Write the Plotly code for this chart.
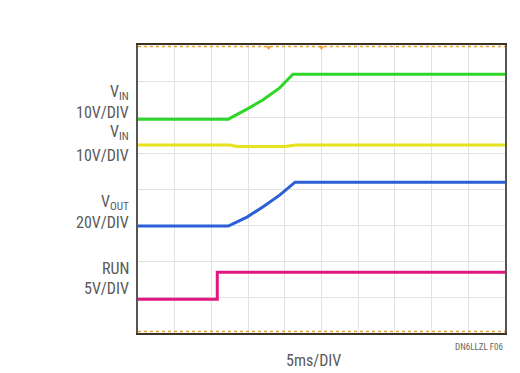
import plotly.graph_objects as go

# time axis in ms (5 ms/div, 10 divisions); vertical positions in screen divisions (0..8)
t_green = [0, 12.3, 14.85, 17.0, 19.3, 21.1, 50]
v_green = [5.94, 5.94, 6.22, 6.47, 6.81, 7.19, 7.19]

t_yellow = [0, 12.5, 13.5, 20.0, 21.5, 50]
v_yellow = [5.22, 5.22, 5.18, 5.18, 5.22, 5.22]

t_blue = [0, 12.3, 14.85, 17.0, 19.3, 21.4, 50]
v_blue = [2.97, 2.97, 3.22, 3.50, 3.83, 4.19, 4.19]

t_run = [0, 10.8, 10.8, 50]
v_run = [0.94, 0.94, 1.69, 1.69]

ref_levels = [0.04, 7.96]
trig_t = [17.8, 25.0]
trig_v = [7.93, 7.93]

labels = [
    ("V<sub>IN</sub>", 6.67), ("10V/DIV", 6.12),
    ("V<sub>IN</sub>", 5.58), ("10V/DIV", 4.92),
    ("V<sub>OUT</sub>", 3.62), ("20V/DIV", 3.06),
    ("RUN", 1.78), ("5V/DIV", 1.25),
]

FONT = "Liberation Sans Narrow, Roboto Condensed, Liberation Sans, sans-serif"

fig = go.Figure()
for lvl in ref_levels:
    fig.add_trace(go.Scatter(x=[0, 50], y=[lvl, lvl], mode="lines",
                             line=dict(color="#e8a030", width=1.5, dash="dot"),
                             hoverinfo="skip"))
fig.add_trace(go.Scatter(x=trig_t, y=trig_v, mode="markers",
                         marker=dict(symbol="triangle-down", size=5, color="#e8a030")))
fig.add_trace(go.Scatter(x=t_green, y=v_green, mode="lines",
                         line=dict(color="#2fd62a", width=3)))
fig.add_trace(go.Scatter(x=t_yellow, y=v_yellow, mode="lines",
                         line=dict(color="#e6e21c", width=3)))
fig.add_trace(go.Scatter(x=t_blue, y=v_blue, mode="lines",
                         line=dict(color="#2a5fd6", width=3)))
fig.add_trace(go.Scatter(x=t_run, y=v_run, mode="lines",
                         line=dict(color="#e0177f", width=3)))

for txt, y in labels:
    fig.add_annotation(text=txt, x=-0.02, xref="paper", y=y, yref="y",
                       xanchor="right", yanchor="middle", showarrow=False,
                       font=dict(family=FONT, size=16, color="#5a5a5a"))

fig.add_annotation(text="5ms/DIV", x=0.477, xref="paper", y=-0.095, yref="paper",
                   xanchor="center", yanchor="middle", showarrow=False,
                   font=dict(family=FONT, size=16, color="#5a5a5a"))
fig.add_annotation(text="DN6LLZL F06", x=1.0, xref="paper", y=-0.047, yref="paper",
                   xanchor="right", yanchor="middle", showarrow=False,
                   font=dict(family=FONT, size=9, color="#666666"))

fig.update_layout(
    width=512, height=365,
    margin=dict(l=130, r=15, t=37, b=40),
    paper_bgcolor="white", plot_bgcolor="white",
    showlegend=False,
)
fig.update_xaxes(range=[0, 50], dtick=5, showticklabels=False, ticks="",
                 showgrid=True, gridcolor="#e2e2e2", gridwidth=1, zeroline=False,
                 showline=True, linecolor="#3a3228", linewidth=2, mirror=True)
fig.update_yaxes(range=[0, 8], dtick=1, showticklabels=False, ticks="",
                 showgrid=True, gridcolor="#e2e2e2", gridwidth=1, zeroline=False,
                 showline=True, linecolor="#555555", linewidth=2, mirror=True)

fig.write_html("out.html")
